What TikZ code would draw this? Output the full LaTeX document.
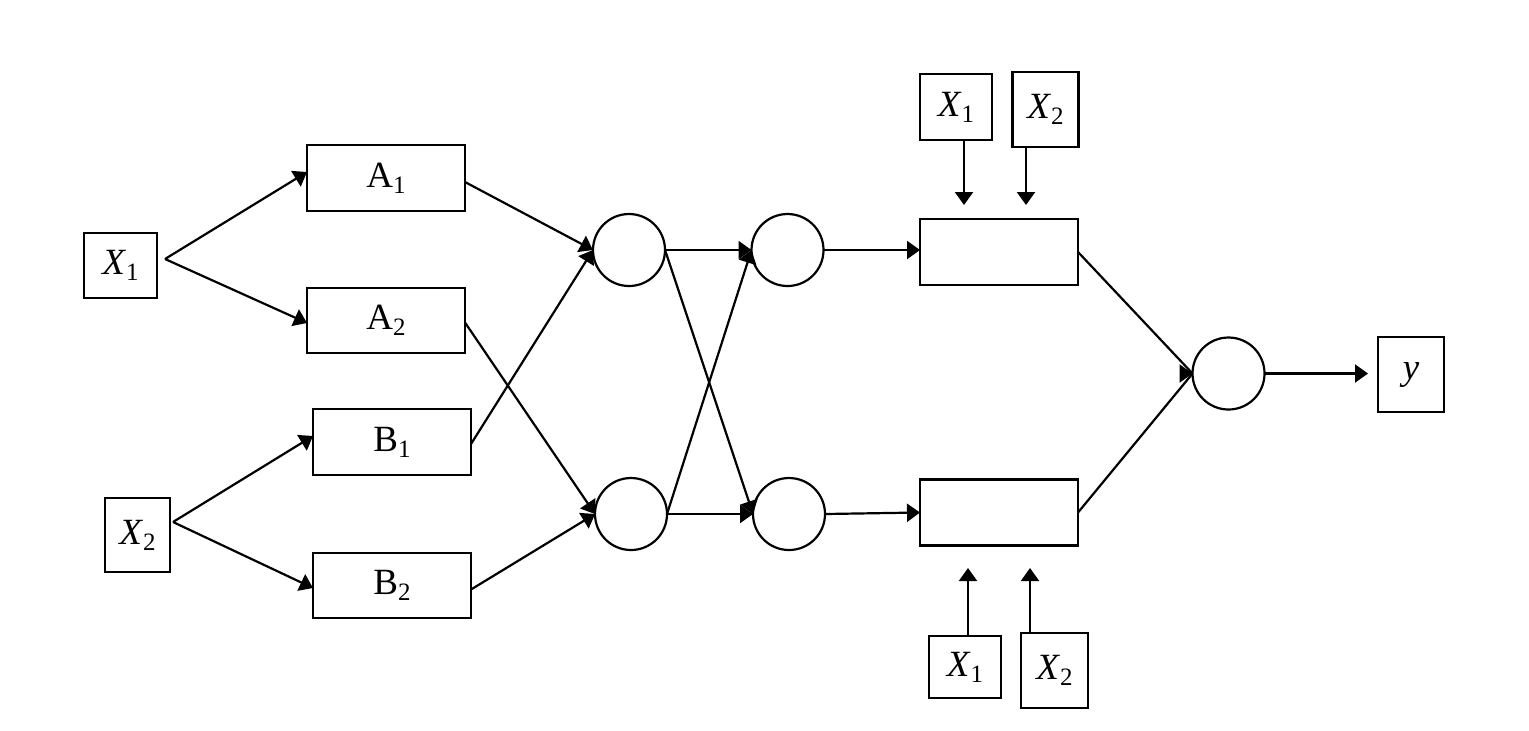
\documentclass[tikz,border=0pt]{standalone}
\usepackage{fontspec}
\setmainfont{Liberation Serif}
\usetikzlibrary{arrows.meta}
\newcommand\sbs[1]{\raisebox{-3pt}{\fontsize{12.5}{14}\selectfont #1}}
\newcommand\iv[1]{\textit{X}\sbs{#1}}
\begin{document}
\begin{tikzpicture}[x=0.5pt,y=-0.5pt,
  box/.style={draw,line width=1.1pt,rectangle,inner sep=0pt,outer sep=0pt,font=\fontsize{18.5}{21}\selectfont},
  circ/.style={draw,line width=1.1pt,circle,minimum size=36pt,inner sep=0pt,outer sep=0pt},
  arr/.style={line width=1.1pt,-{Triangle[length=6.5pt,width=9pt]}},
  ln/.style={line width=1.1pt}]
\useasboundingbox (0,0) rectangle (1529,730);
% left inputs
\node[box,minimum width=36.5pt,minimum height=32.5pt] (lx1) at (120.5,265.5) {\iv{1}};
\node[box,minimum width=32.5pt,minimum height=37pt] (lx2) at (137.5,535) {\iv{2}};
% A/B boxes
\node[box,minimum width=79pt,minimum height=33pt] (A1) at (386,178) {A\sbs{1}};
\node[box,minimum width=79pt,minimum height=32.5pt] (A2) at (386,320.5) {A\sbs{2}};
\node[box,minimum width=79pt,minimum height=33pt] (B1) at (392,442) {B\sbs{1}};
\node[box,minimum width=79pt,minimum height=32.5pt] (B2) at (392,585.5) {B\sbs{2}};
% circles
\node[circ] (C1) at (629,250) {};
\node[circ] (C2) at (787.5,250) {};
\node[circ] (C3) at (631,514) {};
\node[circ] (C4) at (789,514) {};
\node[circ] (R) at (1228.5,373.5) {};
% right boxes
\node[box,minimum width=79pt,minimum height=33pt] (T) at (999,252) {};
\node[box,minimum width=79pt,minimum height=33pt] (Bm) at (999,512.5) {};
\node[box,minimum width=36pt,minimum height=33pt] (tx1) at (956,107) {\iv{1}};
\node[box,minimum width=33pt,minimum height=37.5pt] (tx2) at (1045.5,109.5) {\iv{2}};
\node[box,minimum width=36pt,minimum height=31pt] (bx1) at (965,667) {\iv{1}};
\node[box,minimum width=33.5pt,minimum height=37.5pt] (bx2) at (1054.5,670.5) {\iv{2}};
\node[box,minimum width=33pt,minimum height=37.5pt] (Y) at (1411,374.5) {\textit{y}};
% coordinates
\coordinate (v1) at (165,259);
\coordinate (v2) at (173,522);
\coordinate (a1) at (964,205);
\coordinate (a2) at (1026,205);
\coordinate (a3) at (968,568);
\coordinate (a4) at (1030,568);
\coordinate (ye) at (1368,373.5);
% connectors
\draw[arr] (v1) -- ([yshift=3pt]A1.west);
\draw[arr] (v1) -- ([yshift=-1.25pt]A2.west);
\draw[arr] (v2) -- ([yshift=3pt]B1.west);
\draw[arr] (v2) -- ([yshift=-1.25pt]B2.west);
\draw[arr] ([yshift=-2pt]A1.east) -- (C1.west);
\draw[arr] ([yshift=-1pt]B1.east) -- (C1.west);
\draw[arr] ([yshift=-1pt]A2.east) -- (C3.west);
\draw[arr] ([yshift=-2pt]B2.east) -- (C3.west);
\draw[arr] (C1.east) -- (C2.west);
\draw[arr] (C1.east) -- (C4.west);
\draw[arr] (C3.east) -- (C2.west);
\draw[arr] (C3.east) -- (C4.west);
\draw[arr] (C2.east) -- (T.west |- C2.east);
\draw[arr] (C4.east) -- (Bm.west);
\draw[ln] (T.east) -- (R.west);
\draw[ln] (Bm.east) -- (R.west);
\draw[arr] (R.west) -- ++(0.01,0);
\draw[arr] (R.east) -- (ye);
\draw[arr] (tx1.south -| a1) -- (a1);
\draw[arr] (tx2.south -| a2) -- (a2);
\draw[arr] (bx1.north -| a3) -- (a3);
\draw[arr] (bx2.north -| a4) -- (a4);
\end{tikzpicture}
\end{document}
